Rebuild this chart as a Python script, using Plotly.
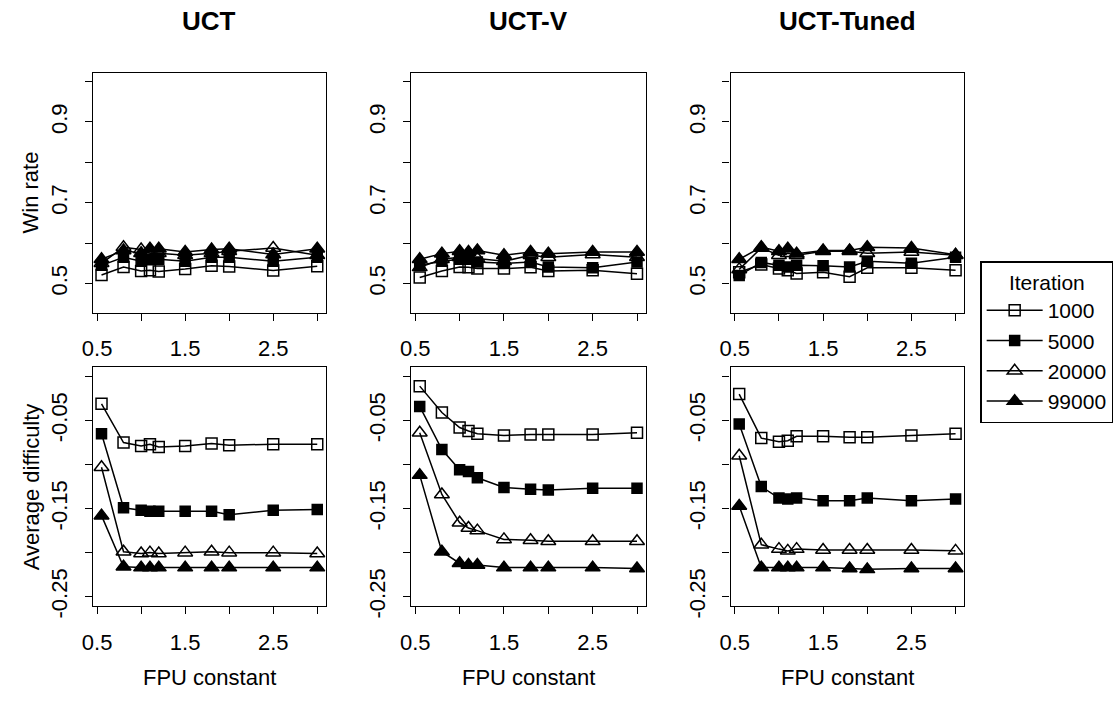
import plotly.graph_objects as go

W, H = 1118, 704

fpu = [0.55, 0.8, 1.0, 1.1, 1.2, 1.5, 1.8, 2.0, 2.5, 3.0]
iterations = ["1000", "5000", "20000", "99000"]
algorithms = ["UCT", "UCT-V", "UCT-Tuned"]

# Win rate
win_uct_1000 = [0.521, 0.541, 0.531, 0.533, 0.530, 0.536, 0.544, 0.542, 0.532, 0.543]
win_uct_5000 = [0.545, 0.565, 0.555, 0.560, 0.560, 0.555, 0.565, 0.565, 0.555, 0.565]
win_uct_20000 = [0.550, 0.590, 0.584, 0.575, 0.575, 0.570, 0.575, 0.580, 0.588, 0.570]
win_uct_99000 = [0.560, 0.582, 0.575, 0.586, 0.586, 0.578, 0.584, 0.586, 0.572, 0.586]

win_v_1000 = [0.515, 0.531, 0.541, 0.540, 0.537, 0.537, 0.540, 0.531, 0.533, 0.524]
win_v_5000 = [0.545, 0.555, 0.560, 0.560, 0.553, 0.550, 0.553, 0.541, 0.539, 0.553]
win_v_20000 = [0.540, 0.560, 0.565, 0.560, 0.562, 0.555, 0.570, 0.565, 0.572, 0.565]
win_v_99000 = [0.560, 0.574, 0.580, 0.578, 0.582, 0.570, 0.578, 0.574, 0.578, 0.578]

win_t_1000 = [0.528, 0.547, 0.537, 0.533, 0.525, 0.528, 0.517, 0.539, 0.539, 0.533]
win_t_5000 = [0.520, 0.552, 0.545, 0.541, 0.545, 0.544, 0.541, 0.555, 0.550, 0.565]
win_t_20000 = [0.535, 0.588, 0.570, 0.575, 0.570, 0.580, 0.580, 0.575, 0.578, 0.570]
win_t_99000 = [0.560, 0.590, 0.580, 0.586, 0.574, 0.582, 0.582, 0.590, 0.588, 0.571]

# Average difficulty
d_uct_1000 = [-0.031, -0.075, -0.079, -0.077, -0.080, -0.079, -0.076, -0.078, -0.077, -0.077]
d_uct_5000 = [-0.065, -0.149, -0.152, -0.153, -0.153, -0.153, -0.153, -0.157, -0.152, -0.151]
d_uct_20000 = [-0.103, -0.199, -0.201, -0.200, -0.201, -0.200, -0.199, -0.200, -0.200, -0.201]
d_uct_99000 = [-0.158, -0.216, -0.217, -0.217, -0.217, -0.217, -0.217, -0.217, -0.217, -0.217]

d_v_1000 = [-0.011, -0.041, -0.058, -0.062, -0.065, -0.067, -0.066, -0.066, -0.066, -0.064]
d_v_5000 = [-0.034, -0.083, -0.106, -0.108, -0.115, -0.126, -0.128, -0.129, -0.127, -0.127]
d_v_20000 = [-0.064, -0.134, -0.166, -0.172, -0.175, -0.185, -0.186, -0.187, -0.187, -0.187]
d_v_99000 = [-0.112, -0.199, -0.212, -0.214, -0.214, -0.217, -0.217, -0.217, -0.217, -0.218]

d_t_1000 = [-0.020, -0.070, -0.074, -0.073, -0.068, -0.068, -0.069, -0.069, -0.067, -0.065]
d_t_5000 = [-0.054, -0.125, -0.138, -0.139, -0.138, -0.141, -0.141, -0.138, -0.141, -0.139]
d_t_20000 = [-0.090, -0.191, -0.196, -0.198, -0.196, -0.197, -0.197, -0.197, -0.197, -0.198]
d_t_99000 = [-0.147, -0.217, -0.217, -0.217, -0.217, -0.217, -0.218, -0.219, -0.218, -0.218]

win = [
    [win_uct_1000, win_uct_5000, win_uct_20000, win_uct_99000],
    [win_v_1000, win_v_5000, win_v_20000, win_v_99000],
    [win_t_1000, win_t_5000, win_t_20000, win_t_99000],
]
diff = [
    [d_uct_1000, d_uct_5000, d_uct_20000, d_uct_99000],
    [d_v_1000, d_v_5000, d_v_20000, d_v_99000],
    [d_t_1000, d_t_5000, d_t_20000, d_t_99000],
]

x_ticks = [0.5, 1.0, 1.5, 2.0, 2.5, 3.0]
x_ticktext = ["0.5", "", "1.5", "", "2.5", ""]
win_ticks = [0.5, 0.6, 0.7, 0.8, 0.9, 1.0]
win_ticktext = ["0.5", "", "0.7", "", "0.9", ""]
diff_ticks = [0.0, -0.05, -0.10, -0.15, -0.20, -0.25]
diff_ticktext = ["", "-0.05", "", "-0.15", "", "-0.25"]

symbols = ["square-open", "square", "triangle-up-open", "triangle-up"]
sizes = [11, 10, 13, 13]

FONT = "Liberation Sans, Arial, Helvetica, sans-serif"

# pixel layout
cols_px = [(82.7, 318.0), (404.0, 641.0), (726.7, 962.7)]
rows_px = [(74.0, 318.0), (373.3, 616.7)]

def xd(a, b):
    return [a / W, b / W]

def yd(top, bot):
    return [1 - bot / H, 1 - top / H]

fig = go.Figure()
layout = {}
axis_idx = 0
for r in range(2):
    for c in range(3):
        axis_idx += 1
        sfx = "" if axis_idx == 1 else str(axis_idx)
        xa = "x" + sfx
        ya = "y" + sfx
        data = win[c] if r == 0 else diff[c]
        for k in range(4):
            fig.add_trace(go.Scatter(
                x=fpu, y=data[k], mode="lines+markers",
                name=iterations[k],
                legendgroup=iterations[k],
                showlegend=(axis_idx == 1),
                line=dict(color="black", width=1.5),
                marker=dict(symbol=symbols[k], size=sizes[k], color="black",
                            line=dict(color="black", width=1.5)),
                xaxis=xa, yaxis=ya,
            ))
        common = dict(
            showline=True, linecolor="black", linewidth=1.3, mirror=True,
            ticks="outside", ticklen=7, tickwidth=1.3, tickcolor="black",
            showgrid=False, zeroline=False,
            tickfont=dict(family=FONT, size=22, color="black"),
        )
        layout["xaxis" + sfx] = dict(
            common, domain=xd(*cols_px[c]), range=[0.452, 3.098],
            tickvals=x_ticks, ticktext=x_ticktext, anchor=ya,
            ticklabelstandoff=9,
        )
        if r == 0:
            yax = dict(range=[0.428, 1.022], tickvals=win_ticks, ticktext=win_ticktext)
        else:
            yax = dict(range=[-0.2608, 0.0108], tickvals=diff_ticks, ticktext=diff_ticktext)
        layout["yaxis" + sfx] = dict(
            common, domain=yd(*rows_px[r]), anchor=xa, tickangle=-90,
            ticklabelstandoff=9, **yax,
        )

annotations = []
for c, name in enumerate(algorithms):
    cx = (cols_px[c][0] + cols_px[c][1]) / 2 / W
    annotations.append(dict(text="<b>" + name + "</b>", x=cx, y=1 - 21 / H,
                            xref="paper", yref="paper", showarrow=False,
                            font=dict(family=FONT, size=26, color="black"),
                            xanchor="center", yanchor="middle"))
    annotations.append(dict(text="FPU constant", x=cx, y=1 - 689 / H,
                            xref="paper", yref="paper", showarrow=False,
                            font=dict(family=FONT, size=22, color="black"),
                            xanchor="center", yanchor="middle"))
annotations.append(dict(text="Win rate", x=20 / W, y=1 - 196 / H, textangle=-90,
                        xref="paper", yref="paper", showarrow=False,
                        font=dict(family=FONT, size=22, color="black"),
                        xanchor="center", yanchor="middle"))
annotations.append(dict(text="Average difficulty", x=21 / W, y=1 - 495 / H, textangle=-90,
                        xref="paper", yref="paper", showarrow=False,
                        font=dict(family=FONT, size=22, color="black"),
                        xanchor="center", yanchor="middle"))

fig.update_layout(
    width=W, height=H,
    margin=dict(l=0, r=0, t=0, b=0),
    paper_bgcolor="white", plot_bgcolor="white",
    font=dict(family=FONT, size=22, color="black"),
    annotations=annotations,
    legend=dict(
        x=979 / W, y=1 - 266 / H, xanchor="left", yanchor="top",
        bordercolor="black", borderwidth=1.3, bgcolor="white",
        title=dict(text="Iteration", side="top center",
                   font=dict(family=FONT, size=21, color="black")),
        font=dict(family=FONT, size=21, color="black"),
        tracegroupgap=0, itemwidth=56,
    ),
    **layout,
)

fig.write_html("out.html")
